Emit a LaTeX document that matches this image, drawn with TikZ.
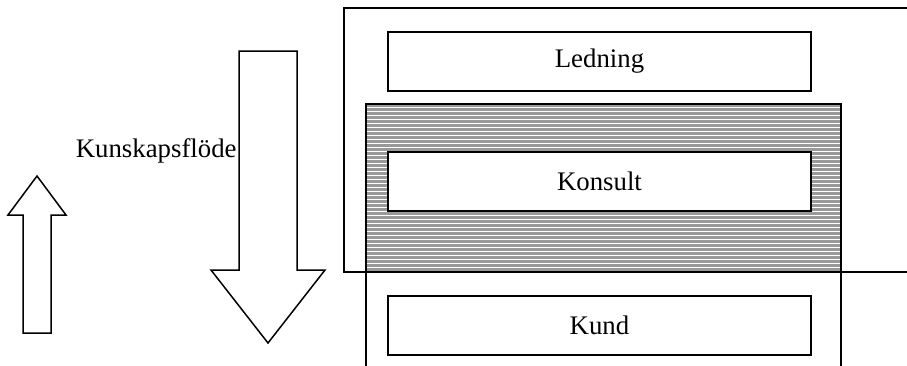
\documentclass[tikz,border=0pt]{standalone}
\usepackage{fontspec}
\setmainfont{Liberation Serif}
\begin{document}
\begin{tikzpicture}[x=0.5pt,y=-0.5pt,
  txt/.style={font=\fontsize{13.4}{15}\selectfont},
  level/.style={draw, line width=1pt, fill=white, minimum width=211.5pt,
    minimum height=29.5pt, inner sep=0pt, txt},
  frame/.style={line width=1pt},
  flow/.style={draw, line width=0.75pt, fill=white, line join=miter}]
\useasboundingbox (0,0) rectangle (907,365);

% organisation frame (open to the right)
\draw[frame] (910,8) -- (344,8) -- (344,272) -- (910,272);

% shaded consultant layer with horizontal stripes
\fill[gray!80!white] (366,104) rectangle (841,272);
\begin{scope}
  \clip (366,104) rectangle (841,272);
  \foreach \yy in {107,111,...,271}
    \draw[white, line width=0.5pt] (366,\yy) -- (841,\yy);
\end{scope}
\draw[line width=1.3pt] (366,104) rectangle (841,272);

% customer layer, open at the bottom
\draw[frame] (366,272) -- (366,368);
\draw[frame] (841,272) -- (841,368);

% level boxes
\node[level] (ledning) at (599.5,61) {Ledning};
\node[level] (konsult) at (599.5,181.5) {Konsult};
\node[level] (kund) at (599.5,325.5) {Kund};

% knowledge flow arrows
\draw[flow] (23,333) -- (23,215) -- (8,215) -- (37,176) -- (66,215)
  -- (51,215) -- (51,333) -- cycle;
\draw[flow] (239,51) -- (297,51) -- (297,270) -- (325,270) -- (268,343)
  -- (211,270) -- (239,270) -- cycle;

\node[anchor=east, inner sep=0pt, txt] (flode) at (237,151) {Kunskapsflöde};
\end{tikzpicture}
\end{document}
